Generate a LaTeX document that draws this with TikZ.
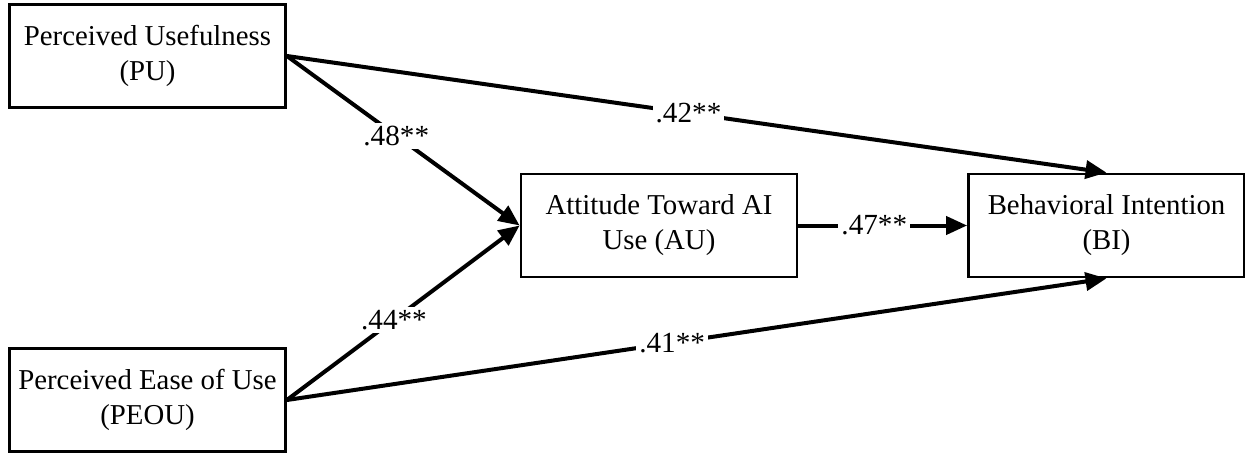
\documentclass[tikz,border=0pt]{standalone}
\usepackage{fontspec}
\setmainfont{Liberation Serif}
\usetikzlibrary{arrows.meta}
\begin{document}
\begin{tikzpicture}[x=0.5pt,y=-0.5pt,
  construct/.style={draw,line width=1.4pt,minimum width=138pt,minimum height=51.5pt,
    align=center,font=\fontsize{14.4}{17.5}\selectfont},
  effect/.style={line width=2pt,-{Triangle[length=10.5pt,width=9pt]}},
  coef/.style={fill=white,inner sep=1.5pt,font=\fontsize{14.6}{17}\selectfont}]
\useasboundingbox (0,0) rectangle (1245,454);
\node [construct] (PU) at (147.5,56) {Perceived Usefulness\\(PU)};
\node [construct] (PEOU) at (147.5,400) {Perceived Ease of Use\\(PEOU)};
\node [construct] (AU) at (659,225.5) {Attitude Toward AI\\Use (AU)};
\node [construct] (BI) at (1106.5,225.5) {Behavioral Intention\\(BI)};
% paths with coefficients
\draw [effect] (PU.east) -- node [coef,pos=0.47] {.48**} (AU.west);
\draw [effect] (PEOU.east) -- node [coef,pos=0.46] {.44**} (AU.west);
\draw [effect] (PU.east) -- node [coef,pos=0.49] {.42**} (BI.north);
\draw [effect] (PEOU.east) -- node [coef,pos=0.47] {.41**} (BI.south);
\draw [effect] (AU.east) -- node [coef,pos=0.45] {.47**} (BI.west);
\end{tikzpicture}
\end{document}
